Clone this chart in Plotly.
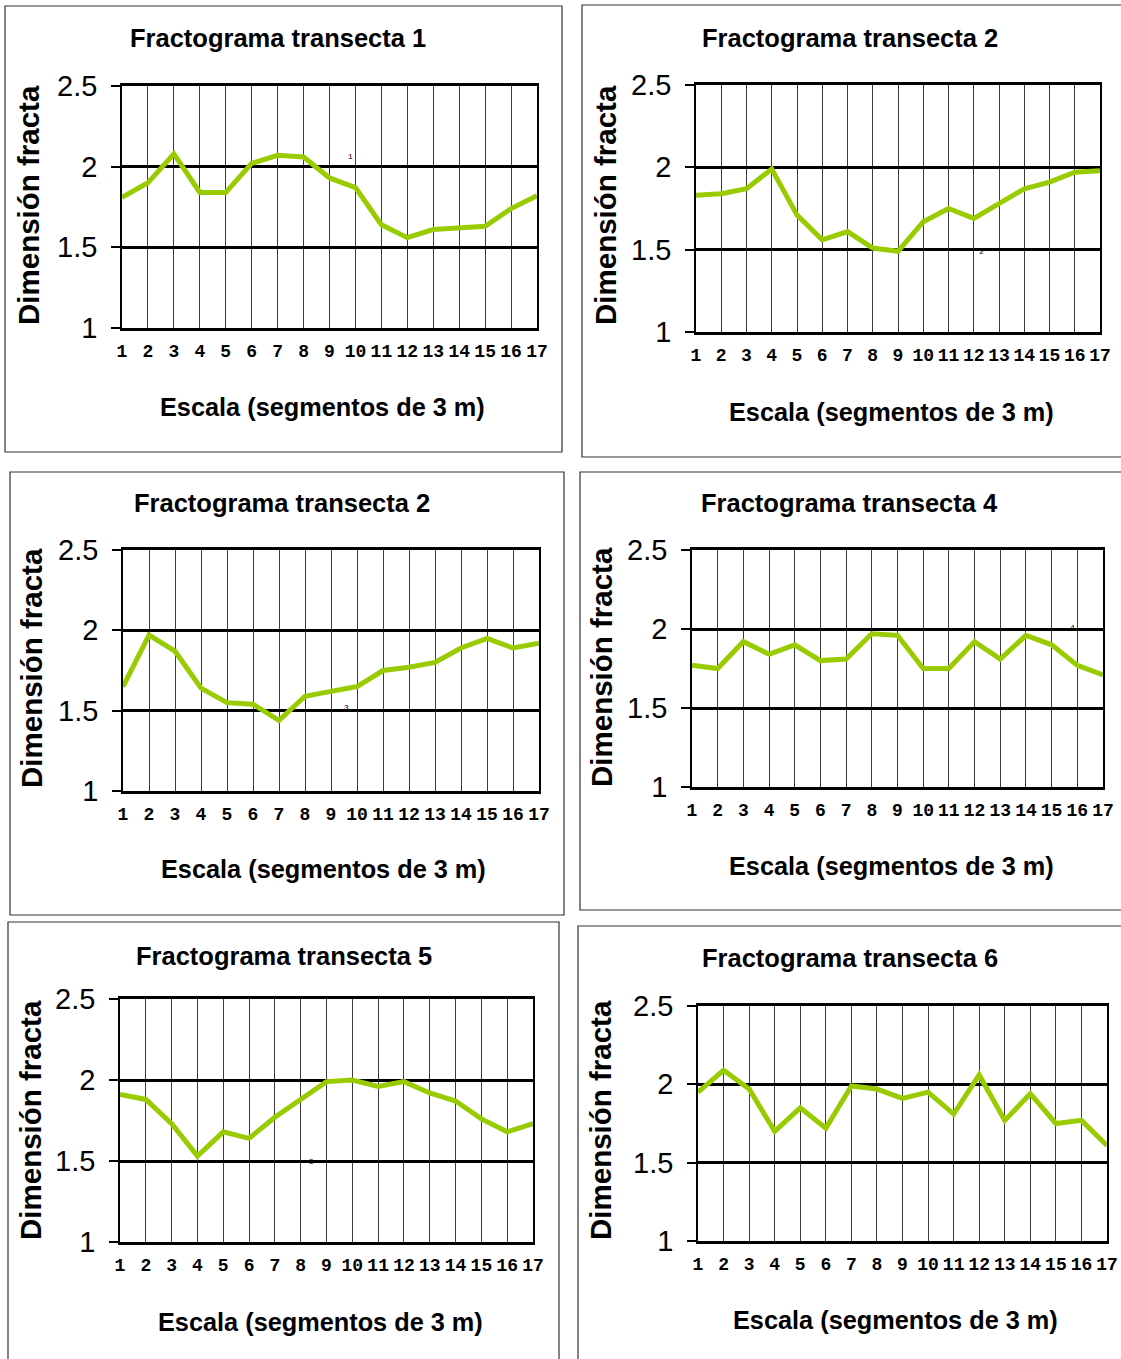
import plotly.graph_objects as go

# ---------------- data ----------------
escala = list(range(1, 18))
x_tick_labels = [str(i) for i in escala]
y_tick_vals = [1, 1.5, 2, 2.5]
y_tick_labels = ["1", "1.5", "2", "2.5"]

titles = [
    "Fractograma transecta 1",
    "Fractograma transecta 2",
    "Fractograma transecta 2",
    "Fractograma transecta 4",
    "Fractograma transecta 5",
    "Fractograma transecta 6",
]
x_title = "Escala (segmentos de 3 m)"
y_title = "Dimensión fracta"

transecta_1 = [1.81, 1.90, 2.08, 1.84, 1.84, 2.02, 2.07, 2.06, 1.93, 1.87, 1.64, 1.56, 1.61, 1.62, 1.63, 1.74, 1.82]
transecta_2 = [1.83, 1.84, 1.87, 1.99, 1.71, 1.56, 1.61, 1.51, 1.49, 1.67, 1.75, 1.69, 1.78, 1.87, 1.91, 1.97, 1.98]
transecta_3 = [1.65, 1.97, 1.87, 1.64, 1.55, 1.54, 1.44, 1.59, 1.62, 1.65, 1.75, 1.77, 1.80, 1.89, 1.95, 1.89, 1.92]
transecta_4 = [1.77, 1.75, 1.92, 1.84, 1.90, 1.80, 1.81, 1.97, 1.96, 1.75, 1.75, 1.92, 1.81, 1.96, 1.90, 1.77, 1.71]
transecta_5 = [1.91, 1.88, 1.73, 1.53, 1.68, 1.64, 1.77, 1.88, 1.99, 2.00, 1.96, 1.99, 1.92, 1.87, 1.76, 1.68, 1.73]
transecta_6 = [1.95, 2.09, 1.97, 1.70, 1.85, 1.72, 1.99, 1.97, 1.91, 1.95, 1.81, 2.06, 1.77, 1.94, 1.75, 1.77, 1.61]
series = [transecta_1, transecta_2, transecta_3, transecta_4, transecta_5, transecta_6]

# small stray series labels seen in the original charts
stray_labels = ["1", "2", "3", "4", "5", None]

# ---------------- layout geometry (pixels) ----------------
W, H = 1121, 1359
panels = [
    dict(plot=(122, 537, 86, 328), title=(278, 38), xt=(322, 407), yt=(28, 205), box=(5, 6, 562, 452), lab=(9.8, 2.06)),
    dict(plot=(696, 1100, 85, 332), title=(850, 38), xt=(892, 412), yt=(605, 205), box=(582, 5, 1125, 457), lab=(12.3, 1.49)),
    dict(plot=(123, 539, 550, 791), title=(282, 503), xt=(323, 869), yt=(32, 668), box=(10, 472, 564, 915), lab=(9.6, 1.52)),
    dict(plot=(692, 1103, 550, 787), title=(849, 503), xt=(892, 866), yt=(601, 667), box=(580, 472, 1125, 910), lab=(15.8, 2.01)),
    dict(plot=(120, 533, 999, 1242), title=(284, 956), xt=(320, 1322), yt=(30, 1120), box=(8, 922, 559, 1365), lab=(8.4, 1.50)),
    dict(plot=(698, 1107, 1006, 1241), title=(850, 958), xt=(895, 1320), yt=(600, 1120), box=(578, 926, 1125, 1365), lab=None),
]

def px(x):
    return x / W

def py(y):
    return 1 - y / H

FONT = "Liberation Sans, Arial, sans-serif"
MONO = "Liberation Mono, Courier New, monospace"
GREEN = "#99CC00"

fig = go.Figure()
layout = dict(
    width=W, height=H,
    margin=dict(l=0, r=0, t=0, b=0, pad=0, autoexpand=False),
    paper_bgcolor="white", plot_bgcolor="white",
    showlegend=False,
    annotations=[], shapes=[],
)

for i, (p, ys) in enumerate(zip(panels, series)):
    n = "" if i == 0 else str(i + 1)
    xa, ya = "x" + n, "y" + n
    fig.add_trace(go.Scatter(
        x=escala, y=ys, mode="lines",
        line=dict(color=GREEN, width=5),
        xaxis=xa, yaxis=ya, hoverinfo="x+y",
    ))
    x0, x1, yt0, yb0 = p["plot"]
    layout["xaxis" + n] = dict(
        domain=[px(x0), px(x1)], anchor=ya, range=[1, 17], automargin=False,
        tickmode="array", tickvals=escala, ticktext=x_tick_labels,
        showgrid=True, gridcolor="#3a3a3a", gridwidth=1,
        showline=True, linecolor="black", linewidth=3, mirror=True,
        ticks="", zeroline=False, ticklabelstandoff=4,
        tickfont=dict(family=MONO, size=18, color="black", weight="bold"),
        fixedrange=True,
    )
    layout["yaxis" + n] = dict(
        domain=[py(yb0), py(yt0)], anchor=xa, range=[1, 2.5], automargin=False,
        tickmode="array", tickvals=y_tick_vals, ticktext=y_tick_labels,
        showgrid=True, gridcolor="black", gridwidth=3,
        showline=True, linecolor="black", linewidth=1.5, mirror=True,
        ticks="outside", ticklen=9, tickwidth=1.5, tickcolor="black",
        zeroline=False, ticklabelstandoff=8,
        tickfont=dict(family=FONT, size=29, color="black"),
        fixedrange=True,
    )
    # panel border
    bx0, by0, bx1, by1 = p["box"]
    layout["shapes"].append(dict(
        type="rect", xref="paper", yref="paper",
        x0=px(bx0), x1=px(bx1), y0=py(by1), y1=py(by0),
        line=dict(color="#333333", width=1.2), fillcolor="rgba(0,0,0,0)", layer="below",
    ))
    # texts
    layout["annotations"].append(dict(
        text=titles[i], x=px(p["title"][0]), y=py(p["title"][1]),
        xref="paper", yref="paper", xanchor="center", yanchor="middle", showarrow=False,
        font=dict(family=FONT, size=25.5, color="black", weight="bold"),
    ))
    layout["annotations"].append(dict(
        text=x_title, x=px(p["xt"][0]), y=py(p["xt"][1]),
        xref="paper", yref="paper", xanchor="center", yanchor="middle", showarrow=False,
        font=dict(family=FONT, size=25.3, color="black", weight="bold"),
    ))
    layout["annotations"].append(dict(
        text=y_title, x=px(p["yt"][0]), y=py(p["yt"][1]), textangle=-90,
        xref="paper", yref="paper", xanchor="center", yanchor="middle", showarrow=False,
        font=dict(family=FONT, size=29.5, color="black", weight="bold"),
    ))
    if stray_labels[i] and p["lab"]:
        layout["annotations"].append(dict(
            text=stray_labels[i], x=p["lab"][0], y=p["lab"][1],
            xref=xa, yref=ya, showarrow=False,
            font=dict(family=MONO, size=8, color="black"),
        ))

fig.update_layout(**layout)
fig.write_html(
    "out.html",
    config={"displayModeBar": False, "staticPlot": False},
    post_script="document.body.style.margin='0px';document.body.style.padding='0px';document.body.style.overflow='hidden';",
)
